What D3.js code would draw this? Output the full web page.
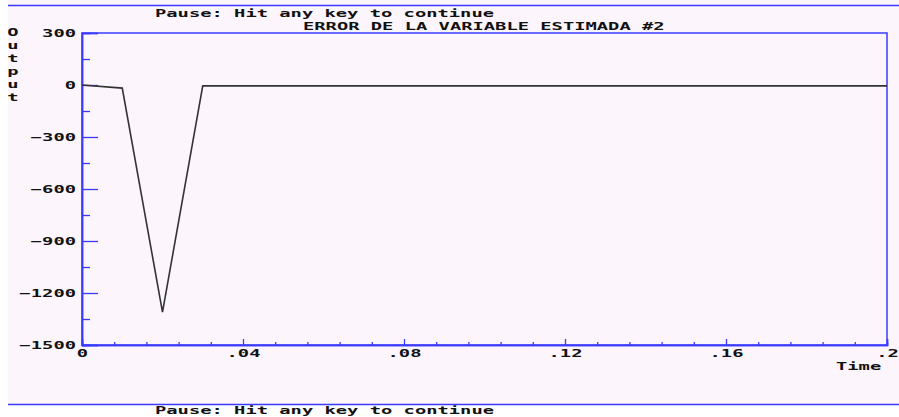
<!DOCTYPE html>
<html>
<head>
<meta charset="utf-8">
<script src="https://cdn.jsdelivr.net/npm/d3@7"></script>
<style>
  html, body { margin: 0; padding: 0; background: #ffffff; }
  svg { display: block; }
  text { font-family: "DejaVu Sans Mono", monospace; font-weight: bold; font-size: 11px; fill: #111; }
</style>
</head>
<body>
<svg id="chart" width="899" height="417"></svg>
<script>
// Simulated estimation error of state variable #2 (sampled every 0.01 s)
const timeSamples = [0, 0.01, 0.02, 0.03, 0.04, 0.05, 0.06, 0.07, 0.08, 0.09, 0.10,
                     0.11, 0.12, 0.13, 0.14, 0.15, 0.16, 0.17, 0.18, 0.19, 0.20];
const errorSamples = [0, -18, -1310, -5, -5, -5, -5, -5, -5, -5, -5,
                      -5, -5, -5, -5, -5, -5, -5, -5, -5, -5];

const yMajorTicks = [300, 0, -300, -600, -900, -1200, -1500];
const yMinorTicks = [150, -150, -450, -750, -1050, -1350];
const xMajorTicks = [0, 0.04, 0.08, 0.12, 0.16, 0.2];
const xMinorTicks = [0.008, 0.016, 0.024, 0.032, 0.048, 0.056, 0.064, 0.072,
                     0.088, 0.096, 0.104, 0.112, 0.128, 0.136, 0.144, 0.152,
                     0.168, 0.176, 0.184, 0.192];
const xTickLabels = ["0", ".04", ".08", ".12", ".16", ".2"];

const titleText = "ERROR DE LA VARIABLE ESTIMADA #2";
const pauseText = "Pause: Hit any key to continue";
const yAxisLabel = "Output";
const xAxisLabel = "Time";

const BLUE = "#3b3bff";
const PINK = "#fcf5fc";
const CELL = 11.3; // character cell width of the screen font

const svg = d3.select("#chart");

// screen background
svg.append("rect").attr("x", 8).attr("y", 0).attr("width", 891).attr("height", 404).attr("fill", PINK);

const x = d3.scaleLinear().domain([0, 0.2]).range([82, 887]);
const y = d3.scaleLinear().domain([-1500, 300]).range([345, 33]);

function stretch(sel) {
  sel.each(function () {
    const t = this.textContent;
    d3.select(this).attr("textLength", t.length * CELL).attr("lengthAdjust", "spacingAndGlyphs");
  });
  return sel;
}

// top and bottom status rules
svg.append("line").attr("x1", 8).attr("x2", 899).attr("y1", 5.5).attr("y2", 5.5)
  .attr("stroke", BLUE).attr("stroke-width", 1.5);
svg.append("line").attr("x1", 8).attr("x2", 899).attr("y1", 404.5).attr("y2", 404.5)
  .attr("stroke", BLUE).attr("stroke-width", 1.5);

svg.append("text").attr("x", 155).attr("y", 17).text(pauseText).call(stretch);
svg.append("text").attr("x", 303).attr("y", 30).text(titleText).call(stretch);
svg.append("text").attr("x", 155).attr("y", 414).text(pauseText).call(stretch);

// plot frame
svg.append("rect").attr("x", x(0)).attr("y", y(300))
  .attr("width", x(0.2) - x(0)).attr("height", y(-1500) - y(300))
  .attr("fill", "none").attr("stroke", BLUE).attr("stroke-width", 1.5);

// y axis: long ticks with labels, short ticks between
const yMajor = svg.append("g").attr("transform", `translate(${x(0)},0)`)
  .call(d3.axisLeft(y).tickValues(yMajorTicks).tickSize(-16).tickPadding(6)
    .tickFormat(d => d === 0 ? "0" : d3.format("d")(d).replace("-", "\u2212")));
const yMinor = svg.append("g").attr("transform", `translate(${x(0)},0)`)
  .call(d3.axisLeft(y).tickValues(yMinorTicks).tickSize(-8).tickFormat(""));

// x axis: ticks point up into the plot
const xMajor = svg.append("g").attr("transform", `translate(0,${y(-1500)})`)
  .call(d3.axisBottom(x).tickValues(xMajorTicks).tickSize(-6).tickPadding(3)
    .tickFormat((d, i) => xTickLabels[i]));
const xMinor = svg.append("g").attr("transform", `translate(0,${y(-1500)})`)
  .call(d3.axisBottom(x).tickValues(xMinorTicks).tickSize(-3).tickFormat(""));

[yMajor, yMinor, xMajor, xMinor].forEach(g => {
  g.select(".domain").attr("stroke", BLUE).attr("stroke-width", 1.5);
  g.selectAll(".tick line").attr("stroke", BLUE).attr("stroke-width", 1.3);
  g.selectAll(".tick text").attr("font-family", null).attr("font-size", null).attr("fill", "#111");
});
yMajor.selectAll(".tick text").attr("dy", "0.36em").call(stretch);
xMajor.selectAll(".tick text").attr("dy", null).attr("y", 12).call(stretch);

// axis titles
svg.append("text").attr("x", 836).attr("y", 370).text(xAxisLabel).call(stretch);
svg.append("g").selectAll("text").data(yAxisLabel.split(""))
  .join("text")
  .attr("x", 13).attr("y", (d, i) => 36 + i * 13)
  .attr("text-anchor", "middle")
  .text(d => d)
  .attr("textLength", CELL).attr("lengthAdjust", "spacingAndGlyphs");

// error trace
const line = d3.line().x((d, i) => x(timeSamples[i])).y(d => y(d));
svg.append("path").datum(errorSamples)
  .attr("d", line)
  .attr("fill", "none").attr("stroke", "#333").attr("stroke-width", 1.6);
</script>
</body>
</html>
